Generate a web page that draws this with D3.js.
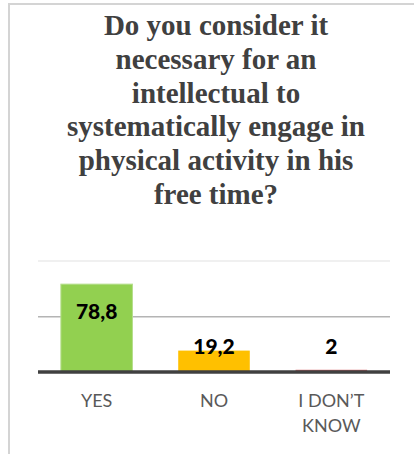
<!DOCTYPE html>
<html>
<head>
<meta charset="utf-8">
<script src="https://cdn.jsdelivr.net/npm/d3@7"></script>
<style>
  html, body { margin: 0; padding: 0; background: #ffffff; }
  svg { display: block; }
</style>
</head>
<body>
<svg id="chart" width="414" height="454"></svg>
<script>
// Survey answers (percent of respondents)
const categories = ["YES", "NO", "I DON\u2019T KNOW"];
const values = [78.8, 19.2, 2];
const valueLabels = ["78,8", "19,2", "2"];
const barColors = ["#92d050", "#ffc000", "#d9696b"];
const gridTicks = [0, 50, 100];
const titleLines = [
  "Do you consider it",
  "necessary for an",
  "intellectual to",
  "systematically engage in",
  "physical activity in his",
  "free time?"
];

const svg = d3.select("#chart");
const W = 414, H = 454;

// outer chart frame
svg.append("rect")
  .attr("x", 9).attr("y", 4)
  .attr("width", W + 20).attr("height", H + 20)
  .attr("fill", "#ffffff")
  .attr("stroke", "#d4d4d4")
  .attr("stroke-width", 2);

// title
const title = svg.append("text")
  .attr("text-anchor", "middle")
  .attr("font-family", "'Times New Roman', 'Liberation Serif', Times, serif")
  .attr("font-weight", 700)
  .attr("font-size", 29)
  .attr("fill", "#404040");
titleLines.forEach((line, i) => {
  title.append("tspan")
    .attr("x", 216)
    .attr("y", 35 + i * 33.8)
    .text(line);
});

// plot area
const plotLeft = 38, plotRight = 390, plotBottom = 372, plotTop = 260.5;

const x = d3.scaleBand()
  .domain(categories)
  .range([plotLeft, plotRight])
  .paddingInner(0.39)
  .paddingOuter(0.195);

const y = d3.scaleLinear()
  .domain([0, 100])
  .range([plotBottom, plotTop]);

// horizontal gridlines
const grid = svg.append("g")
  .attr("transform", `translate(${plotLeft},0)`)
  .call(d3.axisLeft(y)
    .tickValues(gridTicks.filter(t => t > 0))
    .tickSize(-(plotRight - plotLeft))
    .tickFormat(""));
grid.select(".domain").remove();
grid.selectAll(".tick line")
  .attr("stroke", d => d === 100 ? "#ebebeb" : "#b4b4b4")
  .attr("stroke-width", 1.5);

// bars
svg.append("g")
  .selectAll("rect")
  .data(values)
  .join("rect")
  .attr("x", (d, i) => x(categories[i]))
  .attr("y", d => y(d))
  .attr("width", x.bandwidth())
  .attr("height", d => y(0) - y(d))
  .attr("fill", (d, i) => barColors[i])
  .attr("stroke", (d, i) => i === 0 ? "#b5de8c" : "none")
  .attr("stroke-width", 1);

// category axis
const xAxis = svg.append("g")
  .attr("transform", `translate(0,${plotBottom})`)
  .call(d3.axisBottom(x).tickSize(0).tickFormat(""));
xAxis.select(".domain")
  .attr("stroke", "#404040")
  .attr("stroke-width", 3.5)
  .attr("d", `M${plotLeft},0H${plotRight}`);

// category labels (wrapped onto two lines where needed)
const catLabels = svg.append("g")
  .attr("font-family", "Lato, 'Open Sans', sans-serif")
  .attr("font-size", 18)
  .attr("fill", "#595959")
  .attr("text-anchor", "middle");
categories.forEach(c => {
  const words = c.split(" ");
  const lines = words.length > 2 ? [words.slice(0, 2).join(" "), words.slice(2).join(" ")] : [c];
  const t = catLabels.append("text");
  lines.forEach((ln, j) => {
    t.append("tspan")
      .attr("x", x(c) + x.bandwidth() / 2)
      .attr("y", plotBottom + 34.5 + j * 25)
      .text(ln);
  });
});

// value labels: inside the tall bar, above the short ones
svg.append("g")
  .attr("font-family", "Lato, 'Open Sans', sans-serif")
  .attr("font-weight", 900)
  .attr("font-size", 21)
  .attr("fill", "#000000")
  .attr("text-anchor", "middle")
  .selectAll("text")
  .data(values)
  .join("text")
  .attr("x", (d, i) => x(categories[i]) + x.bandwidth() / 2)
  .attr("y", d => y(d) < (plotBottom + plotTop) / 2 + 10
    ? y(d) + 34.5
    : Math.min(y(d) + 3, plotBottom - 18))
  .text((d, i) => valueLabels[i]);
</script>
</body>
</html>
